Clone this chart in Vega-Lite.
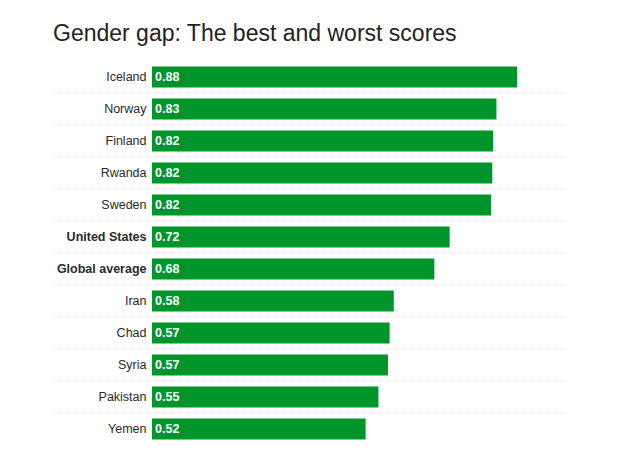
{
  "$schema": "https://vega.github.io/schema/vega-lite/v6.json",
  "autosize": "none",
  "padding": {"left": 152, "top": 61, "right": 74, "bottom": 20},
  "width": 414,
  "height": 384,
  "background": "white",
  "title": {
    "text": "Gender gap: The best and worst scores",
    "anchor": "start",
    "frame": "group",
    "dx": -99,
    "offset": -3,
    "baseline": "alphabetic",
    "font": "Liberation Sans",
    "fontSize": 23,
    "fontWeight": "normal",
    "color": "#222222"
  },
  "data": {
    "values": [
      {"country": "Iceland", "score": 0.882},
      {"country": "Norway", "score": 0.832},
      {"country": "Finland", "score": 0.824},
      {"country": "Rwanda", "score": 0.822},
      {"country": "Sweden", "score": 0.819},
      {"country": "United States", "score": 0.719},
      {"country": "Global average", "score": 0.682},
      {"country": "Iran", "score": 0.584},
      {"country": "Chad", "score": 0.574},
      {"country": "Syria", "score": 0.57},
      {"country": "Pakistan", "score": 0.547},
      {"country": "Yemen", "score": 0.516}
    ]
  },
  "encoding": {
    "y": {
      "field": "country",
      "type": "nominal",
      "sort": null,
      "scale": {"paddingInner": 0.34, "paddingOuter": 0.17},
      "axis": {
        "title": null,
        "domain": false,
        "ticks": false,
        "labelPadding": 6,
        "labelFont": "Liberation Sans",
        "labelFontSize": 12.5,
        "labelColor": "#2a2a2a",
        "labelFontWeight": {"expr": "datum.value === 'United States' || datum.value === 'Global average' ? 'bold' : 'normal'"}
      }
    }
  },
  "layer": [
    {
      "mark": {"type": "bar", "color": "#00952A"},
      "encoding": {
        "x": {
          "field": "score",
          "type": "quantitative",
          "scale": {"domain": [0, 1], "nice": false},
          "axis": null
        }
      }
    },
    {
      "transform": [{"filter": "datum.country !== 'Iceland'"}],
      "mark": {"type": "rule", "color": "#e2e2e2", "strokeWidth": 1, "strokeDash": [1, 1], "yOffset": -16, "xOffset": -100},
      "encoding": {
        "x": {"datum": 0, "type": "quantitative", "scale": {"domain": [0, 1], "nice": false}, "axis": null},
        "x2": {"datum": 1}
      }
    },
    {
      "mark": {"type": "text", "align": "left", "baseline": "middle", "dx": 3, "color": "white", "font": "Liberation Sans", "fontSize": 12.5, "fontWeight": "bold"},
      "encoding": {
        "x": {"datum": 0, "type": "quantitative", "scale": {"domain": [0, 1], "nice": false}, "axis": null},
        "text": {"field": "score", "type": "quantitative", "format": ".2f"}
      }
    }
  ],
  "config": {"view": {"stroke": null}}
}
